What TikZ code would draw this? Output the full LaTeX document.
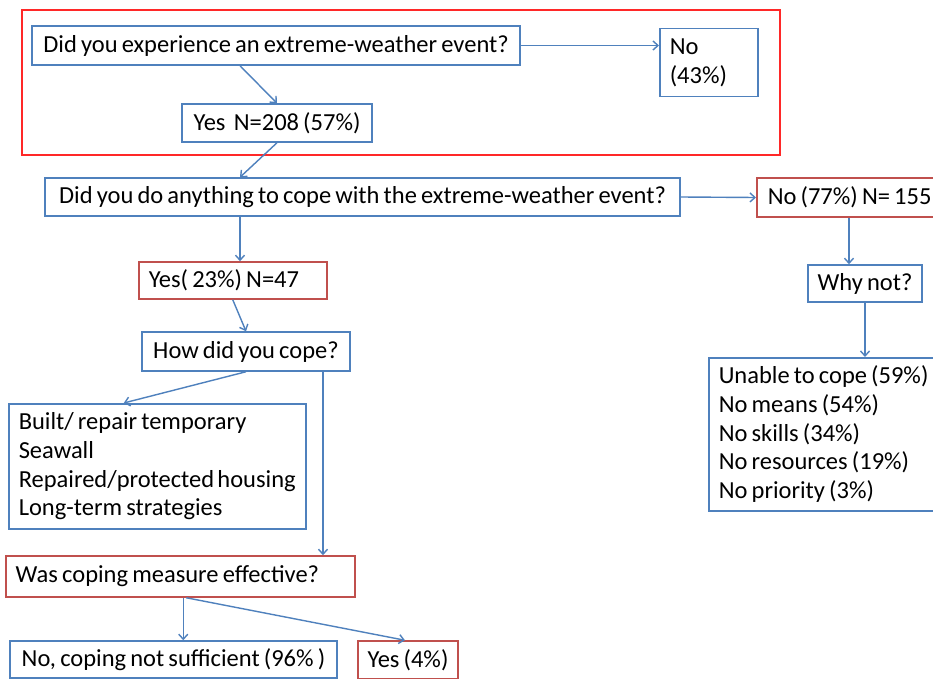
\documentclass[tikz,border=0pt]{standalone}
\usepackage{fontspec}
\setmainfont{Carlito}[WordSpace=0.75]
\usepackage{tikz}
\usetikzlibrary{arrows.meta,calc}

\definecolor{boxblue}{RGB}{79,129,189}
\definecolor{boxred}{RGB}{192,80,77}
\definecolor{framered}{RGB}{255,40,40}

\tikzset{
  bluebox/.style={draw=boxblue, line width=1.5pt, inner sep=0pt,
    execute at begin node={\spaceskip=0pt \xspaceskip=0pt}},
  redbox/.style={draw=boxred, line width=1.5pt, inner sep=0pt,
    execute at begin node={\spaceskip=0pt \xspaceskip=0pt}},
  arr/.style={draw=boxblue, line width=1.4pt, -{Straight Barb[length=5pt,width=9pt]}}
}

\begin{document}
\begin{tikzpicture}[x=1pt,y=-1pt,font=\fontsize{24.5}{28.75}\selectfont]
            \useasboundingbox (0,0) rectangle (933,679);
            \fill[white] (0,0) rectangle (933,679);
            \draw[framered, line width=2pt] (22,10) rectangle (780,155);
            \node[bluebox, minimum width=488pt, minimum height=39pt] (q1) at (276,45.5) {Did you experience an extreme-weather event?};
            \node[bluebox, anchor=north west, text width=78pt, inner xsep=10pt, inner ysep=4pt, minimum height=68pt, align=left] (no1) at (659,28) {No\\(43\%)};
            \node[bluebox, minimum width=190pt, minimum height=38pt] (yes1) at (277,123) {Yes\ \ N=208 (57\%)};
            \node[bluebox, minimum width=635pt, minimum height=38pt] (q2) at (362.5,197) {Did you do anything to cope with the extreme-weather event?};
            \node[redbox, anchor=west, minimum height=39pt, text width=200pt, inner xsep=11pt, align=left] (no2) at (756,197.5) {No (77\%) N= 155};
            \node[bluebox, minimum width=114pt, minimum height=37pt] (whynot) at (865,283.5) {Why not?};
            \node[bluebox, anchor=north west, text width=240pt, inner xsep=10pt, inner ysep=5pt, minimum height=153pt, align=left] (reasons) at (708,357) {Unable to cope (59\%)\\No means (54\%)\\No skills (34\%)\\No resources (19\%)\\No priority (3\%)};
            \node[redbox, anchor=west, minimum height=37pt, text width=168pt, inner xsep=10pt, align=left] (yes2) at (138,280.5) {Yes( 23\%) N=47};
            \node[bluebox, minimum width=208pt, minimum height=39pt] (how) at (246,351.5) {How did you cope?};
            \node[bluebox, anchor=north west, text width=277pt, inner xsep=10pt, inner ysep=3pt, minimum height=125pt, align=left] (list) at (8,403) {Built/ repair temporary\\Seawall\\Repaired/protected housing\\Long-term strategies};
            \node[redbox, anchor=west, minimum height=41pt, text width=329pt, inner xsep=10pt, align=left] (was) at (5,576.5) {Was coping measure effective?};
            \node[bluebox, minimum width=327pt, minimum height=37pt] (noeff) at (173.5,659.5) {No, coping not sufficient (96\% )};
            \node[redbox, minimum width=100pt, minimum height=38pt] (yeseff) at (408,660) {Yes (4\%)};
            \draw[arr] (q1.east) -- (q1.east -| no1.west);
            \draw[arr] ([xshift=-36pt]q1.south) -- (yes1.north);
            \draw[arr] (yes1.south) -- ([xshift=-122.5pt]q2.north);
            \draw[arr] (q2.east) -- (no2.west);
            \draw[arr] ([xshift=-122.5pt]q2.south) -- ([xshift=-122.5pt]q2.south |- yes2.north);
            \draw[arr] ([xshift=-16pt]whynot.north |- no2.south) -- ([xshift=-16pt]whynot.north);
            \draw[arr] (whynot.south) -- (whynot.south |- reasons.north);
            \draw[arr] (yes2.south) -- (how.north);
            \draw[arr] (how.south) -- ([xshift=-33.5pt]list.north);
            \draw[arr] ([xshift=77pt]how.south) -- ([xshift=77pt]how.south |- was.north);
            \draw[arr] ([xshift=3pt]was.south) -- ([xshift=3pt]was.south |- noeff.north);
            \draw[arr] ([xshift=6pt]was.south) -- ([xshift=-3pt]yeseff.north);
        \end{tikzpicture}
\end{document}
